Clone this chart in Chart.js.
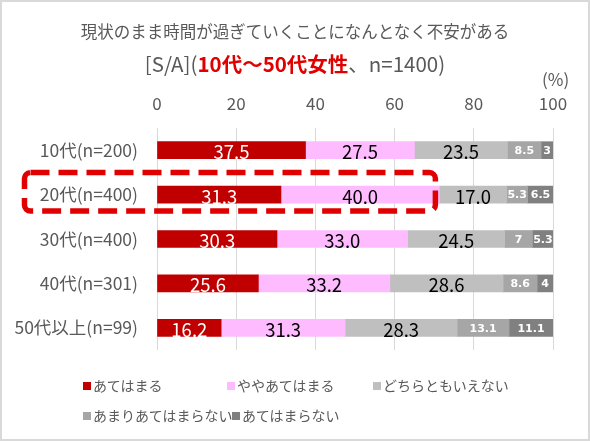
<!DOCTYPE html>
<html>
<head>
<meta charset="utf-8">
<script src="https://cdn.jsdelivr.net/npm/chart.js@4"></script>
<style>
  body { margin: 0; background: #fff; }
  #wrap { position: relative; width: 590px; height: 441px; box-sizing: border-box; border: 2px solid #d9d9d9; overflow: hidden; font-family: "Noto Sans CJK JP", sans-serif; color: #595959; }
  #myChart { position: absolute; left: -2px; top: -2px; }
  .t { position: absolute; left: 0; width: 586px; text-align: center; white-space: nowrap; }
  #t1 { top: 17px; font-size: 16.5px; }
  #t2 { top: 46px; font-size: 20.5px; }
  #t2 b { color: #e00000; }
  #pct { position: absolute; left: 540px; top: 64px; font-size: 17px; }
  .lg { position: absolute; font-size: 14px; white-space: nowrap; line-height: 16px; }
  .lg i { display: inline-block; width: 8px; height: 8px; margin-right: 2px; vertical-align: 1px; }
</style>
</head>
<body>
<div id="wrap">
  <canvas id="myChart" width="590" height="441"></canvas>
  <div class="t" id="t1">現状のまま時間が過ぎていくことになんとなく不安がある</div>
  <div class="t" id="t2">[S/A](<b>10代～50代女性</b>、n=1400)</div>
  <div id="pct">(%)</div>
  <div id="legend"></div>
</div>
<script>
// Categories and series
const ages = ['10代(n=200)', '20代(n=400)', '30代(n=400)', '40代(n=301)', '50代以上(n=99)'];
const answers = ['あてはまる', 'ややあてはまる', 'どちらともいえない', 'あまりあてはまらない', 'あてはまらない'];

const atehamaru = [37.5, 31.3, 30.3, 25.6, 16.2];
const yaya = [27.5, 40.0, 33.0, 33.2, 31.3];
const dochira = [23.5, 17.0, 24.5, 28.6, 28.3];
const amari = [8.5, 5.3, 7.0, 8.6, 13.1];
const atehamaranai = [3.0, 6.5, 5.3, 4.0, 11.1];

// Labels printed on the bars
const shortLabels = [
    ['37.5', '27.5', '23.5', '8.5', '3'],
    ['31.3', '40.0', '17.0', '5.3', '6.5'],
    ['30.3', '33.0', '24.5', '7', '5.3'],
    ['25.6', '33.2', '28.6', '8.6', '4'],
    ['16.2', '31.3', '28.3', '13.1', '11.1']
];

const colors = ['#c00000', '#ffbbff', '#bfbfbf', '#a6a6a6', '#808080'];
const series = [atehamaru, yaya, dochira, amari, atehamaranai];

// Legend in html, placed like the Excel legend
const legendPos = [[83, 377], [227, 377], [373, 377], [83, 407], [232, 407]];
const legendDiv = document.getElementById('legend');
answers.forEach((name, i) => {
    const el = document.createElement('div');
    el.className = 'lg';
    el.style.left = (legendPos[i][0] - 2) + 'px';
    el.style.top = (legendPos[i][1] - 2) + 'px';
    el.innerHTML = '<i style="background:' + colors[i] + '"></i>' + name;
    legendDiv.appendChild(el);
});

// Numbers inside the segments
const barLabels = {
    id: 'barLabels',
    afterDatasetsDraw(chart) {
        const c = chart.ctx;
        c.save();
        c.textAlign = 'center';
        c.textBaseline = 'middle';
        chart.data.datasets.forEach((ds, di) => {
            const meta = chart.getDatasetMeta(di);
            meta.data.forEach((bar, i) => {
                const x = (bar.x + bar.base) / 2;
                if (di >= 3) {
                    c.font = 'bold 11px "DejaVu Sans"';
                    c.fillStyle = '#fff';
                    c.fillText(shortLabels[i][di], x, bar.y + 1);
                } else {
                    c.font = '18.5px "Noto Sans CJK JP"';
                    c.fillStyle = di === 0 ? '#fff' : '#000';
                    c.fillText(shortLabels[i][di], x, bar.y + 2);
                }
            });
        });
        c.restore();
    }
};

// Red dashed frame round the 20代 row
const highlight = {
    id: 'highlight',
    afterDraw(chart) {
        const c = chart.ctx;
        const xs = chart.scales.x;
        const yc = chart.scales.y.getPixelForValue(1);
        c.save();
        c.strokeStyle = '#e00000';
        c.lineWidth = 5.5;
        c.setLineDash([19, 9]);
        c.beginPath();
        c.roundRect(24.5, yc - 22, xs.getPixelForValue(70.3) - 24.5, 38.5, 6);
        c.stroke();
        c.restore();
    }
};

const ctx = document.getElementById('myChart').getContext('2d');
new Chart(ctx, {
    type: 'bar',
    data: {
        labels: ages,
        datasets: series.map((vals, i) => ({
            label: answers[i],
            data: vals,
            backgroundColor: colors[i],
            barThickness: 17
        }))
    },
    options: {
        indexAxis: 'y',
        responsive: false,
        animation: false,
        layout: { padding: { top: 0, left: 0, right: 37, bottom: 91 } },
        scales: {
            x: {
                position: 'top',
                stacked: true,
                min: 0,
                max: 100,
                ticks: { stepSize: 20, color: '#595959', font: { family: 'Noto Sans CJK JP', size: 17 }, padding: 14 },
                grid: { color: '#d9d9d9', drawTicks: false },
                border: { display: false },
                afterFit(scale) { scale.height = 128; }
            },
            y: {
                stacked: true,
                ticks: { color: '#595959', font: { family: 'Noto Sans CJK JP', size: 17.5 }, padding: 19 },
                grid: { display: false, drawTicks: false },
                border: { display: false },
                afterFit(scale) { scale.width = 157; }
            }
        },
        plugins: {
            legend: { display: false },
            tooltip: { enabled: false }
        }
    },
    plugins: [barLabels, highlight]
});
</script>
</body>
</html>
